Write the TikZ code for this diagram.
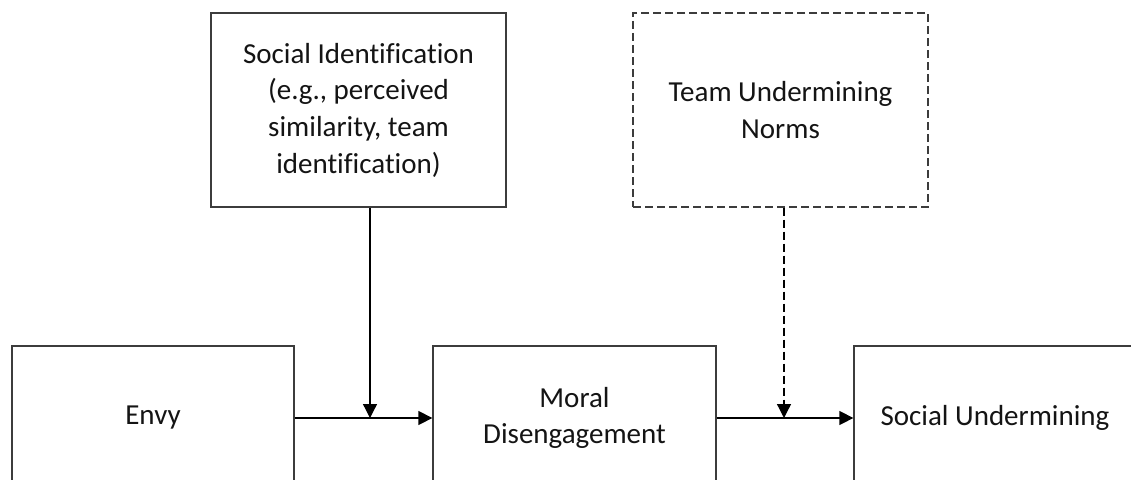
\documentclass[tikz,border=0pt]{standalone}
\usepackage{fontspec}
\setmainfont{Carlito}[Ligatures=NoCommon]
\usetikzlibrary{arrows.meta,calc}
\definecolor{edge}{HTML}{3C3C3C}
\tikzset{
  box/.style={draw=edge, line width=1.3pt, rectangle, align=center,
    inner sep=0pt, font=\fontsize{29}{36.7}\selectfont, text=black!92},
  link/.style={draw=black, line width=1.3pt,
    -{Triangle[length=14pt,width=14pt]}},
  dashedlink/.style={link, dash pattern=on 8pt off 4pt}
}
\begin{document}
\begin{tikzpicture}[x=1pt,y=-1pt]
  \clip (0,0) rectangle (1131,479);
  \fill[white] (0,0) rectangle (1131,479);

  % moderators
  \node[box, minimum width=295pt, minimum height=194pt] (sid) at (358.5,110)
    {Social Identification\\(e.g., perceived\\similarity, team\\identification)};
  \node[box, dash pattern=on 8pt off 4pt, minimum width=295pt, minimum height=194pt] (tun) at (780.5,110)
    {Team Undermining\\Norms};

  % main path (boxes run past the lower edge)
  \node[box, minimum width=282pt, minimum height=144pt] (envy) at (153,418) {Envy};
  \node[box, minimum width=283pt, minimum height=144pt] (moral) at (574.5,418)
    {Moral\\Disengagement};
  \node[box, minimum width=282pt, minimum height=144pt] (su) at (995,418)
    {Social Undermining};

  % points where moderators meet the paths
  \coordinate (m1) at (370,418);
  \coordinate (m2) at (784,418);

  \draw[link] (envy.east) -- (moral.west);
  \draw[link] (moral.east) -- (su.west);
  \draw[link] (m1 |- sid.south) -- (m1);
  \draw[dashedlink] (m2 |- tun.south) -- (m2);
\end{tikzpicture}
\end{document}
